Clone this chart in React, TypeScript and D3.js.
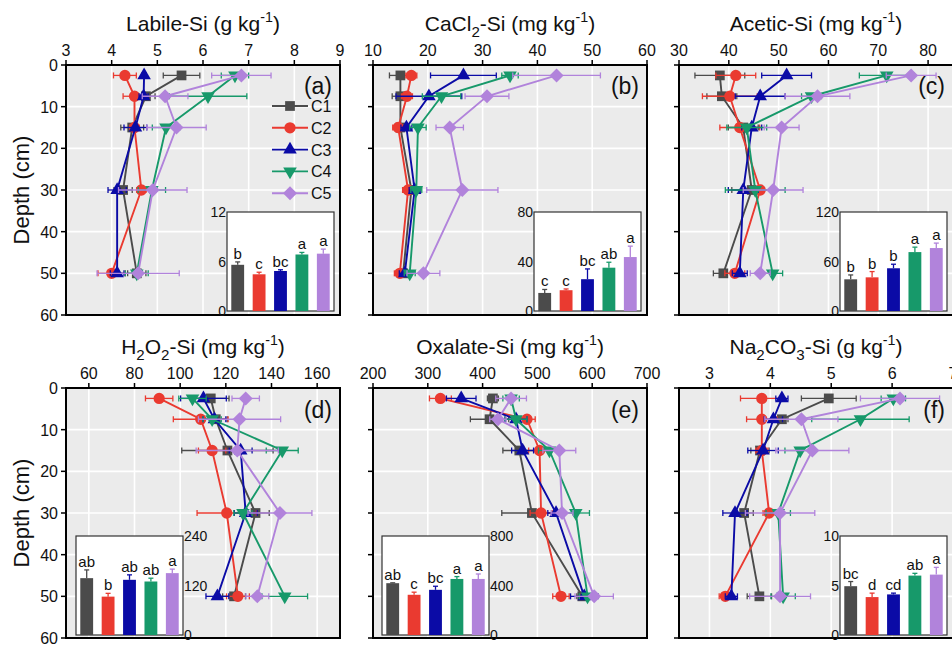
import React from 'react';
import * as d3 from 'd3';

// ---------- data ----------
const depths = [2.5, 7.5, 15, 30, 50];
const seriesNames = ['C1', 'C2', 'C3', 'C4', 'C5'];
const seriesColors = ['#4b4b4b', '#ea3a30', '#0b0ba6', '#17996a', '#b183db'];
const depthTicks = [0, 10, 20, 30, 40, 50, 60];

// (a) Labile-Si
const labileSi = [
  [5.53, 4.75, 4.45, 4.25, 4.55],
  [4.29, 4.5, 4.5, 4.65, 4.0],
  [4.71, 4.7, 4.52, 4.12, 4.12],
  [6.7, 6.11, 5.19, 4.88, 4.55],
  [6.84, 5.17, 5.42, 4.9, 4.58],
];
const labileErr = [
  [0.4, 0.2, 0.25, 0.2, 0.2],
  [0.25, 0.25, 0.1, 0.1, 0.3],
  [0.05, 0.1, 0.25, 0.2, 0.15],
  [0.3, 0.85, 0.3, 0.3, 0.25],
  [0.65, 0.5, 0.65, 0.75, 0.9],
];
const labileTicks = [3, 4, 5, 6, 7, 8, 9];
const labileBar = [5.6, 4.45, 4.85, 6.85, 6.95];
const labileBarErr = [0.35, 0.25, 0.15, 0.25, 0.55];
const labileLetters = ['b', 'c', 'bc', 'a', 'a'];
const labileBarTicks = [0, 6, 12];

// (b) CaCl2-Si
const cacl2Si = [
  [15, 15, 15, 17, 15.5],
  [17, 16.2, 14.6, 16.4, 14.9],
  [26.5, 20.2, 16.1, 17.6, 15.8],
  [35, 22.5, 18.2, 17.9, 16.7],
  [43.5, 30.8, 24.0, 26.3, 19.2],
];
const cacl2Err = [
  [2, 1.5, 1, 1.5, 1],
  [1, 1, 1, 1, 1],
  [6, 6, 1, 1, 1],
  [1.5, 3.5, 1.5, 1, 1],
  [8, 4, 2.5, 6.5, 3],
];
const cacl2Ticks = [10, 20, 30, 40, 50, 60];
const cacl2Bar = [14.6, 16.8, 25.7, 35, 43.6];
const cacl2BarErr = [2.8, 1, 8.3, 4.4, 8.8];
const cacl2Letters = ['c', 'c', 'bc', 'ab', 'a'];
const cacl2BarTicks = [0, 40, 80];

// (c) Acetic-Si
const aceticSi = [
  [38.2, 38.6, 42.9, 44.6, 38.9],
  [41.4, 40.2, 42.2, 46.3, 41.2],
  [51.6, 46.3, 44.6, 42.9, 42.2],
  [71.7, 56.6, 43.6, 45.3, 48.8],
  [76.6, 57.8, 50.6, 48.9, 46.3],
];
const aceticErr = [
  [5, 3, 3, 4, 2],
  [4, 5.5, 4, 3, 2],
  [5, 5, 2, 3, 1.5],
  [5.5, 2, 4, 6, 2],
  [5, 6.5, 3.5, 6, 2],
];
const aceticTicks = [30, 40, 50, 60, 70, 80];
const aceticBar = [38.4, 40.8, 51.8, 71.4, 76.3];
const aceticBarErr = [5.3, 7, 4.9, 6, 6];
const aceticLetters = ['b', 'b', 'b', 'a', 'a'];
const aceticBarTicks = [0, 60, 120];

// (d) H2O2-Si
const h2o2Si = [
  [113.4, 115.6, 120.7, 133, 123.6],
  [90.8, 109, 114, 120.4, 125.3],
  [110.2, 115, 126.5, 128.7, 116.3],
  [105.4, 114, 144.7, 127.5, 145.8],
  [128.7, 126, 125, 143.7, 133.8],
];
const h2o2Err = [
  [8, 5, 20, 6, 5],
  [6, 12, 6, 13, 5],
  [10, 5, 5, 5, 5],
  [6, 4, 7, 4, 10],
  [6, 18, 18, 14, 5],
];
const h2o2Ticks = [60, 80, 100, 120, 140, 160];
const h2o2Bar = [137.8, 93, 133.8, 129.7, 150];
const h2o2BarErr = [20, 8, 12, 8, 9.7];
const h2o2Letters = ['ab', 'b', 'ab', 'ab', 'a'];
const h2o2BarTicks = [0, 120, 240];

// (e) Oxalate-Si
const oxalateSi = [
  [418.8, 412.7, 467, 490, 582],
  [323, 481, 504, 506.7, 543],
  [361, 461, 473, 534, 585.5],
  [452, 461, 522, 570, 591.5],
  [452, 428, 540, 545, 603.6],
];
const oxalateErr = [
  [10, 35, 30, 55, 10],
  [20, 15, 20, 20, 15],
  [27, 20, 20, 15, 25],
  [15, 20, 20, 25, 15],
  [28, 15, 30, 20, 35],
];
const oxalateTicks = [200, 300, 400, 500, 600, 700];
const oxalateBar = [418.7, 325, 365, 453, 453];
const oxalateBarErr = [3, 21, 29, 19, 40];
const oxalateLetters = ['ab', 'c', 'bc', 'a', 'a'];
const oxalateBarTicks = [0, 400, 800];

// (f) Na2CO3-Si
const na2co3Si = [
  [4.96, 4.19, 3.83, 3.57, 3.82],
  [3.86, 3.86, 3.86, 3.98, 3.26],
  [4.19, 4.05, 3.88, 3.42, 3.36],
  [6.02, 5.48, 4.49, 4.13, 4.21],
  [6.13, 4.51, 4.69, 4.16, 4.16],
];
const na2co3Err = [
  [0.45, 0.1, 0.15, 0.15, 0.2],
  [0.35, 0.25, 0.1, 0.1, 0.1],
  [0.1, 0.15, 0.25, 0.2, 0.1],
  [0.2, 0.8, 0.25, 0.2, 0.2],
  [0.65, 0.6, 0.6, 0.57, 0.5],
];
const na2co3Ticks = [3, 4, 5, 6, 7];
const na2co3Bar = [4.93, 3.83, 4.1, 6.0, 6.1];
const na2co3BarErr = [0.47, 0.4, 0.13, 0.23, 0.73];
const na2co3Letters = ['bc', 'd', 'cd', 'ab', 'a'];
const na2co3BarTicks = [0, 5, 10];

type Seg = { t: string; sub?: boolean; sup?: boolean };
const titleA: Seg[] = [{ t: 'Labile-Si (g kg' }, { t: '-1', sup: true }, { t: ')' }];
const titleB: Seg[] = [{ t: 'CaCl' }, { t: '2', sub: true }, { t: '-Si (mg kg' }, { t: '-1', sup: true }, { t: ')' }];
const titleC: Seg[] = [{ t: 'Acetic-Si (mg kg' }, { t: '-1', sup: true }, { t: ')' }];
const titleD: Seg[] = [{ t: 'H' }, { t: '2', sub: true }, { t: 'O' }, { t: '2', sub: true }, { t: '-Si (mg kg' }, { t: '-1', sup: true }, { t: ')' }];
const titleE: Seg[] = [{ t: 'Oxalate-Si (mg kg' }, { t: '-1', sup: true }, { t: ')' }];
const titleF: Seg[] = [{ t: 'Na' }, { t: '2', sub: true }, { t: 'CO' }, { t: '3', sub: true }, { t: '-Si (g kg' }, { t: '-1', sup: true }, { t: ')' }];

// ---------- layout ----------
const W = 952;
const H = 646;
const PW = 274;
const PH = 250;
const IW = 107;
const IH = 99;
const FONT = "'Liberation Sans', Arial, Helvetica, sans-serif";

const panels = [
  { id: '(a)', title: titleA, vals: labileSi, errs: labileErr, dom: [3, 9], ticks: labileTicks, bar: labileBar, barErr: labileBarErr, letters: labileLetters, barTicks: labileBarTicks, left: 66, top: 65, yLab: true, inLeft: 161, inTop: 147, inSide: 'left', legend: true },
  { id: '(b)', title: titleB, vals: cacl2Si, errs: cacl2Err, dom: [10, 60], ticks: cacl2Ticks, bar: cacl2Bar, barErr: cacl2BarErr, letters: cacl2Letters, barTicks: cacl2BarTicks, left: 373, top: 65, yLab: false, inLeft: 161, inTop: 147, inSide: 'left', legend: false },
  { id: '(c)', title: titleC, vals: aceticSi, errs: aceticErr, dom: [30, 85], ticks: aceticTicks, bar: aceticBar, barErr: aceticBarErr, letters: aceticLetters, barTicks: aceticBarTicks, left: 679, top: 65, yLab: false, inLeft: 161, inTop: 147, inSide: 'left', legend: false },
  { id: '(d)', title: titleD, vals: h2o2Si, errs: h2o2Err, dom: [50, 170], ticks: h2o2Ticks, bar: h2o2Bar, barErr: h2o2BarErr, letters: h2o2Letters, barTicks: h2o2BarTicks, left: 66, top: 388, yLab: true, inLeft: 10, inTop: 148, inSide: 'right', legend: false },
  { id: '(e)', title: titleE, vals: oxalateSi, errs: oxalateErr, dom: [200, 700], ticks: oxalateTicks, bar: oxalateBar, barErr: oxalateBarErr, letters: oxalateLetters, barTicks: oxalateBarTicks, left: 373, top: 388, yLab: false, inLeft: 9, inTop: 148, inSide: 'right', legend: false },
  { id: '(f)', title: titleF, vals: na2co3Si, errs: na2co3Err, dom: [2.5, 7], ticks: na2co3Ticks, bar: na2co3Bar, barErr: na2co3BarErr, letters: na2co3Letters, barTicks: na2co3BarTicks, left: 679, top: 388, yLab: false, inLeft: 161, inTop: 148, inSide: 'left', legend: false },
];

const diamond = {
  draw(ctx: any, size: number) {
    const r = Math.sqrt(size / 2);
    ctx.moveTo(0, -r);
    ctx.lineTo(r, 0);
    ctx.lineTo(0, r);
    ctx.lineTo(-r, 0);
    ctx.closePath();
  },
};

const markerPaths = [
  d3.symbol().type(d3.symbolSquare).size(95)()!,
  d3.symbol().type(d3.symbolCircle).size(100)()!,
  d3.symbol().type(d3.symbolTriangle).size(80)()!,
  d3.symbol().type(d3.symbolTriangle).size(80)()!,
  d3.symbol().type(diamond as any).size(98)()!,
];
const markerRot = [0, 0, 0, 180, 0];

function Title({ segs, x, y, size }: { segs: Seg[]; x: number; y: number; size: number }) {
  const out: React.ReactNode[] = [];
  let shift = 0;
  segs.forEach((s, i) => {
    let target = 0;
    let fs = size;
    if (s.sub) { target = 6; fs = size * 0.72; }
    if (s.sup) { target = -9; fs = size * 0.68; }
    out.push(
      <tspan key={i} dy={target - shift} fontSize={fs}>{s.t}</tspan>
    );
    shift = target;
  });
  return (
    <text x={x} y={y} textAnchor="middle" fontSize={size} fontFamily={FONT} fill="#111">
      {out}
    </text>
  );
}

function Panel({ p }: { p: (typeof panels)[number] }) {
  const x = d3.scaleLinear().domain(p.dom).range([p.left, p.left + PW]);
  const y = d3.scaleLinear().domain([0, 60]).range([p.top, p.top + PH]);
  const line = d3
    .line<number>()
    .x((d) => x(d))
    .y((_, i) => y(depths[i]));

  const ix0 = p.left + p.inLeft;
  const iy0 = p.top + p.inTop;
  const bx = d3.scaleBand<string>().domain(seriesNames).range([ix0, ix0 + IW]).paddingInner(0.4).paddingOuter(0.2);
  const byDom = [p.barTicks[0], p.barTicks[p.barTicks.length - 1]];
  const by = d3.scaleLinear().domain(byDom).range([iy0 + IH, iy0]);

  return (
    <g>
      <rect x={p.left} y={p.top} width={PW} height={PH} fill="#ebebeb" />
      {p.ticks.filter((t) => t > p.dom[0] && t < p.dom[1]).map((t) => (
        <line key={'gx' + t} x1={x(t)} x2={x(t)} y1={p.top} y2={p.top + PH} stroke="#fff" strokeWidth={1.6} />
      ))}
      {depthTicks.filter((t) => t > 0 && t < 60).map((t) => (
        <line key={'gy' + t} x1={p.left} x2={p.left + PW} y1={y(t)} y2={y(t)} stroke="#fff" strokeWidth={1.6} />
      ))}

      {p.vals.map((vals, si) => (
        <g key={'s' + si}>
          {vals.map((v, di) => {
            const e = p.errs[si][di];
            const yy = y(depths[di]);
            return (
              <g key={'e' + di} stroke={seriesColors[si]} strokeWidth={1.3}>
                <line x1={x(v - e)} x2={x(v + e)} y1={yy} y2={yy} />
                <line x1={x(v - e)} x2={x(v - e)} y1={yy - 3} y2={yy + 3} />
                <line x1={x(v + e)} x2={x(v + e)} y1={yy - 3} y2={yy + 3} />
              </g>
            );
          })}
          <path d={line(vals)!} fill="none" stroke={seriesColors[si]} strokeWidth={1.9} />
          {vals.map((v, di) => (
            <path
              key={'m' + di}
              d={markerPaths[si]}
              transform={`translate(${x(v)},${y(depths[di])}) rotate(${markerRot[si]})`}
              fill={seriesColors[si]}
            />
          ))}
        </g>
      ))}

      <rect x={p.left} y={p.top} width={PW} height={PH} fill="none" stroke="#000" strokeWidth={2} />

      {/* top axis */}
      {p.ticks.map((t) => (
        <g key={'tx' + t}>
          <line x1={x(t)} x2={x(t)} y1={p.top} y2={p.top - 5} stroke="#000" strokeWidth={1.5} />
          <text x={x(t)} y={p.top - 9} textAnchor="middle" fontSize={16} fontFamily={FONT} fill="#111">{t}</text>
        </g>
      ))}
      {/* left axis */}
      {depthTicks.map((t) => (
        <g key={'ty' + t}>
          <line x1={p.left} x2={p.left - 5} y1={y(t)} y2={y(t)} stroke="#000" strokeWidth={1.5} />
          {p.yLab && (
            <text x={p.left - 8} y={y(t) + 6} textAnchor="end" fontSize={16} fontFamily={FONT} fill="#111">{t}</text>
          )}
        </g>
      ))}
      {p.yLab && (
        <text transform={`translate(29,${p.top + PH / 2}) rotate(-90)`} textAnchor="middle" fontSize={22} fontFamily={FONT} fill="#111">Depth (cm)</text>
      )}
      <Title segs={p.title} x={p.left + PW / 2} y={p.top - 34} size={21} />
      <text x={p.left + PW - 8} y={p.top + (p.top < 200 ? 29 : 30)} textAnchor="end" fontSize={23} fontFamily={FONT} fill="#111">{p.id}</text>

      {/* legend */}
      {p.legend && seriesNames.map((n, i) => {
        const ly = p.top + 41 + i * 21.8;
        return (
          <g key={'lg' + n}>
            <line x1={p.left + 206} x2={p.left + 242} y1={ly} y2={ly} stroke={seriesColors[i]} strokeWidth={1.9} />
            <path d={markerPaths[i]} transform={`translate(${p.left + 224},${ly}) rotate(${markerRot[i]})`} fill={seriesColors[i]} />
            <text x={p.left + 245} y={ly + 6} fontSize={16} fontFamily={FONT} fill="#111">{n}</text>
          </g>
        );
      })}

      {/* inset bar chart */}
      <rect x={ix0} y={iy0} width={IW} height={IH} fill="#fff" stroke="#333" strokeWidth={1.2} />
      {p.bar.map((v, i) => {
        const bxv = bx(seriesNames[i])!;
        const cx = bxv + bx.bandwidth() / 2;
        const top = by(v + p.barErr[i]);
        return (
          <g key={'b' + i}>
            <line x1={cx} x2={cx} y1={by(v)} y2={top} stroke={seriesColors[i]} strokeWidth={1.3} />
            <line x1={cx - 2.5} x2={cx + 2.5} y1={top} y2={top} stroke={seriesColors[i]} strokeWidth={1.3} />
            <rect x={bxv} y={by(v)} width={bx.bandwidth()} height={by(0) - by(v)} fill={seriesColors[i]} />
            <text x={cx} y={top - 3} textAnchor="middle" fontSize={15} fontFamily={FONT} fill="#111">{p.letters[i]}</text>
          </g>
        );
      })}
      {p.barTicks.map((t) => (
        <text
          key={'bt' + t}
          x={p.inSide === 'left' ? ix0 - 1 : ix0 + IW + 1}
          y={by(t) + 5}
          textAnchor={p.inSide === 'left' ? 'end' : 'start'}
          fontSize={14}
          fontFamily={FONT}
          fill="#111"
        >
          {t}
        </text>
      ))}
    </g>
  );
}

export default function App() {
  return (
    <svg
      width={W}
      height={H}
      viewBox={`0 0 ${W} ${H}`}
      style={{ position: 'absolute', left: 0, top: 0, background: '#fff' }}
    >
      <rect width={W} height={H} fill="#fff" />
      {panels.map((p) => (
        <Panel key={p.id} p={p} />
      ))}
    </svg>
  );
}
